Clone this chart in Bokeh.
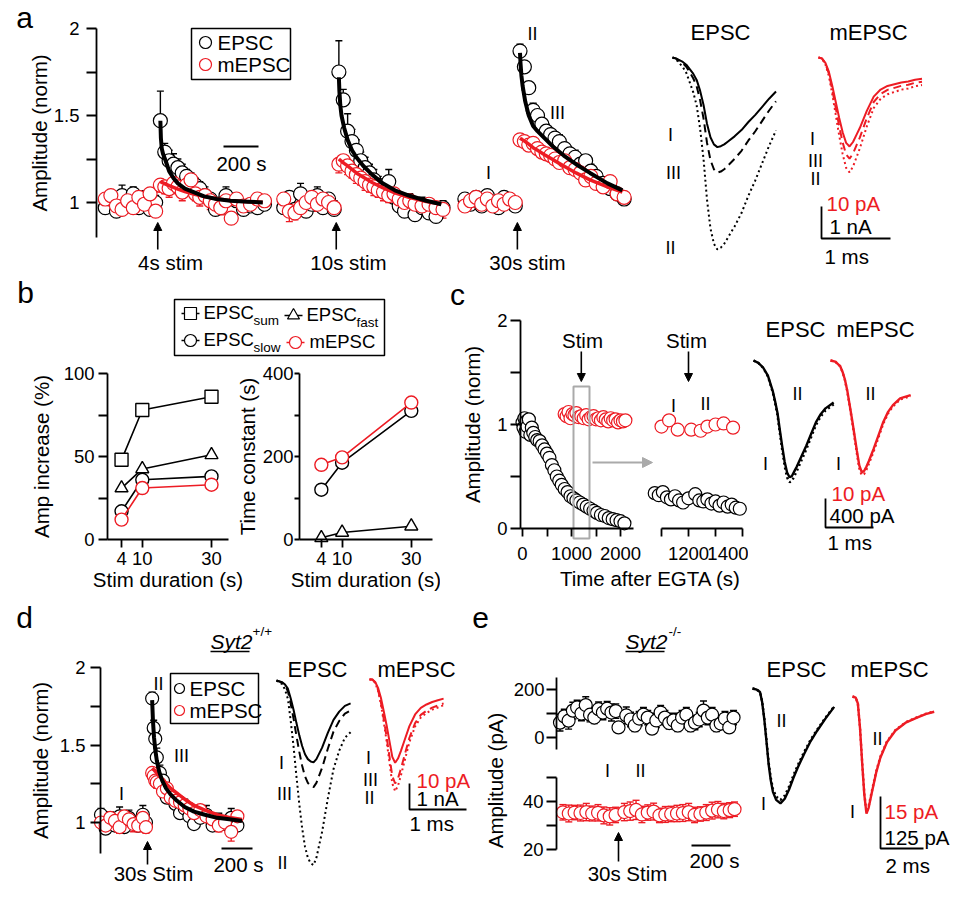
import math
from bokeh.plotting import figure
from bokeh.layouts import row, column
from bokeh.models import Range1d, FixedTicker, Label, Arrow, NormalHead, LinearAxis
from bokeh.embed import file_html
from bokeh.resources import INLINE

# ======================= DATA =======================
# ---- panel a: normalised amplitude time courses (time relative to stimulus, s)
A_STIM_LABELS = ["4s stim", "10s stim", "30s stim"]
A_PRE_T = [-300, -268, -236, -204, -172, -140, -108, -76, -44, -12]
A_POST_T = [15, 40, 65, 90, 115, 140, 165, 190, 215, 240, 270, 300, 330, 360, 390, 420, 450, 490, 530, 570, 610]
A_EPSC_PRE = [[0.97, 1.02, 0.95, 1.04, 0.98, 1.05, 0.97, 1.03, 0.96, 1.00],
              [0.97, 1.03, 0.96, 1.05, 0.95, 0.99, 1.04, 0.97, 1.02, 0.96],
              [1.02, 0.99, 1.03, 0.98, 1.04, 1.00, 0.97, 1.03, 1.01, 0.98]]
A_EPSC_PRE_ERR = [[0.07, 0.03, 0.04, 0.06, 0.03, 0.04, 0.05, 0.03, 0.04, 0.04],
                  [0.08, 0.03, 0.04, 0.06, 0.03, 0.04, 0.05, 0.04, 0.03, 0.05],
                  [0.03, 0.02, 0.03, 0.02, 0.03, 0.02, 0.03, 0.02, 0.03, 0.02]]
A_MEPSC_PRE = [[1.02, 1.04, 0.98, 0.96, 1.01, 0.97, 1.03, 0.99, 1.05, 0.95],
               [1.02, 0.95, 0.94, 0.97, 1.00, 1.03, 0.99, 1.02, 1.00, 0.97],
               [0.98, 1.01, 1.03, 0.99, 1.02, 0.98, 1.01, 0.99, 1.02, 1.00]]
A_MEPSC_PRE_ERR = [[0.04, 0.03, 0.04, 0.03, 0.05, 0.03, 0.04, 0.03, 0.04, 0.03],
                   [0.05, 0.06, 0.04, 0.03, 0.05, 0.03, 0.04, 0.03, 0.04, 0.03],
                   [0.02, 0.03, 0.02, 0.03, 0.02, 0.03, 0.02, 0.03, 0.02, 0.03]]
A_EPSC_POST = [[1.47, 1.29, 1.24, 1.22, 1.20, 1.17, 1.15, 1.12, 1.10, 1.08, 1.04, 1.02, 0.96, 0.99, 1.04, 0.95, 1.01, 0.96, 0.98, 0.97, 0.99],
               [1.75, 1.59, 1.41, 1.35, 1.30, 1.24, 1.20, 1.17, 1.13, 1.10, 1.07, 1.12, 1.03, 0.98, 0.95, 1.01, 0.93, 0.97, 0.94, 0.92, 0.97],
               [1.87, 1.78, 1.66, 1.53, 1.50, 1.45, 1.41, 1.39, 1.37, 1.35, 1.31, 1.28, 1.26, 1.22, 1.24, 1.18, 1.15, 1.11, 1.08, 1.05, 1.02]]
A_EPSC_POST_ERR = [[0.17, 0.05, 0.06, 0.06, 0.05, 0.05, 0.04, 0.05, 0.04, 0.04, 0.05, 0.03, 0.04, 0.04, 0.05, 0.03, 0.04, 0.03, 0.04, 0.03, 0.04],
                   [0.18, 0.06, 0.10, 0.07, 0.06, 0.05, 0.06, 0.05, 0.06, 0.05, 0.04, 0.07, 0.05, 0.04, 0.06, 0.04, 0.05, 0.06, 0.04, 0.05, 0.04],
                   [0.04, 0.03, 0.03, 0.04, 0.03, 0.03, 0.04, 0.03, 0.03, 0.04, 0.03, 0.03, 0.04, 0.03, 0.03, 0.04, 0.03, 0.03, 0.04, 0.03, 0.03]]
A_MEPSC_POST = [[1.10, 1.09, 1.08, 1.11, 1.09, 1.06, 1.10, 1.13, 1.05, 1.03, 1.04, 1.01, 0.99, 0.97, 1.01, 0.91, 1.02, 0.98, 0.99, 1.02, 1.01],
                [1.22, 1.24, 1.21, 1.18, 1.16, 1.14, 1.12, 1.10, 1.09, 1.07, 1.06, 1.04, 1.05, 1.02, 1.00, 1.01, 0.99, 0.98, 0.99, 0.97, 0.96],
                [1.36, 1.35, 1.33, 1.34, 1.31, 1.29, 1.28, 1.27, 1.25, 1.23, 1.24, 1.20, 1.19, 1.17, 1.13, 1.15, 1.11, 1.09, 1.12, 1.05, 1.03]]
A_MEPSC_POST_ERR = [[0.04, 0.04, 0.05, 0.04, 0.04, 0.05, 0.04, 0.05, 0.04, 0.05, 0.04, 0.05, 0.04, 0.04, 0.05, 0.03, 0.04, 0.05, 0.04, 0.04, 0.04],
                    [0.05, 0.04, 0.05, 0.04, 0.05, 0.04, 0.05, 0.04, 0.05, 0.04, 0.05, 0.04, 0.05, 0.04, 0.05, 0.04, 0.05, 0.04, 0.05, 0.04, 0.05],
                    [0.03, 0.03, 0.03, 0.03, 0.03, 0.03, 0.03, 0.03, 0.03, 0.03, 0.03, 0.03, 0.03, 0.03, 0.03, 0.03, 0.03, 0.03, 0.03, 0.03, 0.03]]
A_FIT_T = [15, 18, 23, 30, 45, 65, 90, 115, 155, 205, 265, 335, 415, 515, 600]
A_EPSC_FIT = [[1.47, 1.37, 1.31, 1.28, 1.24, 1.18, 1.14, 1.11, 1.08, 1.06, 1.035, 1.02, 1.01, 1.005, 1.0],
              [1.72, 1.64, 1.56, 1.50, 1.43, 1.36, 1.30, 1.26, 1.21, 1.16, 1.11, 1.07, 1.04, 1.01, 0.99],
              [1.86, 1.80, 1.73, 1.67, 1.58, 1.50, 1.44, 1.41, 1.37, 1.32, 1.27, 1.22, 1.17, 1.11, 1.07]]
A_MEPSC_FIT = [[1.12, 1.118, 1.116, 1.113, 1.106, 1.097, 1.087, 1.077, 1.063, 1.048, 1.034, 1.022, 1.012, 1.005, 1.002],
               [1.25, 1.247, 1.243, 1.237, 1.225, 1.21, 1.19, 1.17, 1.145, 1.115, 1.085, 1.055, 1.03, 1.005, 0.99],
               [1.37, 1.368, 1.365, 1.36, 1.35, 1.335, 1.315, 1.30, 1.275, 1.245, 1.21, 1.17, 1.13, 1.09, 1.06]]
# ---- panel a: example traces (normalised waveform x peak amplitude), order I, III, II
TRACE_NAMES_3 = ["I", "III", "II"]
A_TR_EPSC_T = [0, 0.05, 0.1, 0.15, 0.2, 0.25, 0.3, 0.35, 0.4, 0.45, 0.5, 0.55, 0.6, 0.65, 0.7, 0.75, 0.8, 0.9, 1.0, 1.1, 1.2, 1.3, 1.4, 1.5]
A_TR_EPSC_F = [0, 0.01, 0.03, 0.05, 0.08, 0.13, 0.18, 0.25, 0.37, 0.53, 0.74, 0.89, 0.97, 1.0, 0.99, 0.97, 0.94, 0.88, 0.81, 0.72, 0.64, 0.55, 0.46, 0.38]
A_TR_EPSC_AMP = [2.8, 3.6, 6.0]          # nA
A_TR_MEPSC_T = [0, 0.05, 0.1, 0.15, 0.2, 0.25, 0.3, 0.35, 0.4, 0.45, 0.5, 0.55, 0.6, 0.7, 0.8, 0.9, 1.0, 1.1, 1.2, 1.3, 1.4, 1.5]
A_TR_MEPSC_F = [0, 0.01, 0.06, 0.16, 0.32, 0.50, 0.68, 0.84, 0.96, 1.0, 0.95, 0.87, 0.79, 0.60, 0.44, 0.36, 0.32, 0.30, 0.28, 0.27, 0.25, 0.24]
A_TR_MEPSC_AMP = [27.8, 31.6, 35.9]      # pA

# ---- panel b
B_DUR = [4, 10, 30]
B_AMP_SUM = [48, 78, 86]
B_AMP_FAST = [31, 42.5, 51]
B_AMP_SLOW = [17, 36, 38]
B_AMP_MEPSC = [12, 31, 33]
B_TAU_FAST = [4, 17, 32]
B_TAU_SLOW = [120, 185, 310]
B_TAU_MEPSC = [180, 198, 330]

# ---- panel c
C_T_EPSC = [0, 20, 40, 60, 80, 100, 130, 160, 190, 220, 260, 300, 350, 400, 450, 500, 550, 600, 650, 700,
            750, 800, 860, 920, 980, 1040, 1100, 1170, 1240, 1310, 1380, 1450, 1520, 1600, 1680, 1760, 1840, 1920, 2000, 2080]
C_EPSC = [1.02, 0.97, 1.06, 0.93, 1.03, 0.98, 1.05, 0.90, 0.97, 0.92, 0.88, 0.85, 0.84, 0.80, 0.76, 0.72, 0.68, 0.61, 0.56, 0.50,
          0.46, 0.42, 0.38, 0.35, 0.31, 0.29, 0.27, 0.25, 0.23, 0.21, 0.19, 0.17, 0.15, 0.13, 0.12, 0.10, 0.09, 0.08, 0.07, 0.05]
C_T_MEPSC = [860, 900, 940, 980, 1020, 1060, 1100, 1150, 1200, 1250, 1300, 1350, 1400, 1450, 1500, 1550, 1600, 1650, 1700, 1750,
             1800, 1850, 1900, 1950, 2000, 2050, 2100]
C_MEPSC = [1.10, 1.08, 1.12, 1.06, 1.10, 1.09, 1.11, 1.07, 1.08, 1.06, 1.09, 1.05, 1.07, 1.08, 1.05, 1.06, 1.04, 1.07, 1.05, 1.03,
           1.06, 1.04, 1.05, 1.02, 1.04, 1.03, 1.04]
C_STIM_T = 1200
C_IN_T_EPSC = [1075, 1090, 1105, 1120, 1135, 1150, 1165, 1180, 1200, 1225, 1240, 1255, 1270, 1285, 1300, 1315, 1330, 1345, 1360, 1375, 1390]
C_IN_EPSC = [0.34, 0.32, 0.35, 0.30, 0.28, 0.31, 0.27, 0.25, 0.29, 0.33, 0.27, 0.26, 0.28, 0.24, 0.26, 0.22, 0.25, 0.21, 0.23, 0.20, 0.19]
C_IN_T_MEPSC = [1100, 1128, 1160, 1210, 1245, 1270, 1300, 1330, 1365]
C_IN_MEPSC = [0.98, 1.04, 0.95, 0.95, 0.94, 0.98, 1.00, 1.01, 0.97]
C_IN_MEPSC_ERR = [0.02, 0.02, 0.05, 0.05, 0.02, 0.02, 0.02, 0.02, 0.02]
C_IN_TICKS = [1100, 1200, 1300, 1400]
C_TR_EPSC_T = [0, 0.1, 0.2, 0.3, 0.4, 0.45, 0.5, 0.55, 0.6, 0.65, 0.7, 0.75, 0.8, 0.85, 0.9, 1.0, 1.1, 1.2, 1.3, 1.4, 1.5, 1.67]
C_TR_EPSC_F = [0, 0.02, 0.06, 0.13, 0.26, 0.35, 0.45, 0.60, 0.74, 0.87, 0.96, 1.0, 0.99, 0.95, 0.91, 0.82, 0.73, 0.63, 0.53, 0.46, 0.41, 0.36]
C_TR_EPSC_AMP = [1610, 1680]      # pA, I and II
C_TR_MEPSC_T = [0, 0.1, 0.2, 0.25, 0.3, 0.35, 0.4, 0.45, 0.5, 0.55, 0.6, 0.65, 0.7, 0.75, 0.8, 0.9, 1.0, 1.1, 1.2, 1.3, 1.45, 1.67]
C_TR_MEPSC_F = [0, 0.01, 0.05, 0.10, 0.17, 0.27, 0.40, 0.53, 0.67, 0.81, 0.94, 1.0, 0.99, 0.95, 0.90, 0.79, 0.67, 0.55, 0.46, 0.40, 0.34, 0.31]
C_TR_MEPSC_AMP = [38.5, 39.5]

# ---- panel d (Syt2 +/+)
D_PRE_T = [-300, -270, -240, -210, -180, -150, -120, -90, -60, -30, -10]
D_EPSC_PRE = [1.05, 0.96, 1.02, 0.98, 1.04, 0.97, 1.03, 1.00, 0.98, 1.05, 1.00]
D_EPSC_PRE_ERR = [0.04, 0.03, 0.05, 0.04, 0.06, 0.03, 0.05, 0.04, 0.03, 0.06, 0.04]
D_MEPSC_PRE = [1.00, 0.98, 1.03, 1.01, 0.97, 1.04, 1.02, 0.99, 0.98, 1.03, 0.97]
D_MEPSC_PRE_ERR = [0.03, 0.04, 0.03, 0.05, 0.04, 0.03, 0.04, 0.05, 0.04, 0.03, 0.04]
D_POST_T = [30, 40, 50, 60, 80, 100, 125, 150, 180, 210, 240, 270, 300, 340, 380, 420, 460, 500, 540, 580]
D_EPSC_POST = [1.80, 1.61, 1.54, 1.42, 1.32, 1.27, 1.16, 1.17, 1.12, 1.06, 1.09, 1.04, 0.99, 1.03, 1.05, 0.98, 1.00, 0.99, 1.03, 0.98]
D_EPSC_POST_ERR = [0.04, 0.05, 0.08, 0.06, 0.05, 0.05, 0.06, 0.04, 0.05, 0.05, 0.06, 0.05, 0.04, 0.05, 0.06, 0.05, 0.06, 0.05, 0.06, 0.05]
D_MEPSC_POST = [1.32, 1.30, 1.27, 1.26, 1.25, 1.20, 1.22, 1.16, 1.14, 1.13, 1.11, 1.09, 1.06, 1.08, 1.04, 1.02, 0.98, 1.00, 0.94, 1.04]
D_MEPSC_POST_ERR = [0.03, 0.04, 0.03, 0.04, 0.03, 0.04, 0.03, 0.04, 0.04, 0.03, 0.04, 0.04, 0.03, 0.04, 0.04, 0.03, 0.04, 0.03, 0.06, 0.04]
D_FIT_T = [30, 35, 42, 50, 60, 75, 95, 120, 150, 190, 240, 300, 370, 450, 540, 610]
D_EPSC_FIT = [1.79, 1.66, 1.55, 1.47, 1.40, 1.33, 1.27, 1.22, 1.18, 1.14, 1.10, 1.07, 1.05, 1.03, 1.02, 1.01]
D_MEPSC_FIT = [1.35, 1.345, 1.34, 1.33, 1.32, 1.30, 1.28, 1.25, 1.22, 1.19, 1.15, 1.11, 1.08, 1.05, 1.03, 1.02]
D_TR_EPSC_T = [0, 0.1, 0.15, 0.2, 0.25, 0.3, 0.35, 0.4, 0.45, 0.5, 0.55, 0.6, 0.65, 0.7, 0.8, 0.9, 1.0, 1.1, 1.2, 1.3]
D_TR_EPSC_F = [0, 0.02, 0.05, 0.10, 0.22, 0.36, 0.52, 0.67, 0.80, 0.90, 0.96, 0.99, 1.0, 0.96, 0.82, 0.64, 0.48, 0.38, 0.31, 0.28]
D_TR_EPSC_AMP = [3.15, 4.1, 7.1]     # nA, I, III, II
D_TR_MEPSC_T = [0, 0.05, 0.1, 0.15, 0.2, 0.25, 0.3, 0.35, 0.4, 0.45, 0.5, 0.55, 0.6, 0.7, 0.8, 0.9, 1.0, 1.1, 1.2, 1.3]
D_TR_MEPSC_F = [0, 0.0, 0.03, 0.10, 0.22, 0.38, 0.55, 0.74, 0.93, 1.0, 0.95, 0.86, 0.76, 0.56, 0.42, 0.34, 0.30, 0.27, 0.25, 0.23]
D_TR_MEPSC_AMP = [32, 40, 43]        # pA

# ---- panel e (Syt2 -/-)
E_T_TOP = [-300, -278, -256, -234, -212, -190, -168, -146, -124, -102, -80, -58, -36, -14, 0, 40, 62, 84, 106, 128,
           150, 172, 194, 216, 238, 260, 282, 304, 326, 348, 370, 392, 414, 436, 458, 480, 502, 524, 546, 568, 590]
E_TOP = [62, 88, 70, 112, 125, 100, 135, 95, 83, 118, 104, 120, 104, 110, 42, 92, 75, 50, 79, 95,
         83, 37, 71, 104, 83, 60, 71, 50, 83, 95, 50, 62, 75, 112, 83, 95, 50, 58, 79, 42, 83]
E_TOP_ERR = [35, 30, 35, 35, 30, 30, 35, 30, 25, 30, 30, 30, 35, 30, 15, 35, 30, 25, 30, 30,
             30, 20, 30, 30, 30, 25, 30, 25, 30, 30, 25, 30, 30, 40, 30, 30, 25, 25, 30, 20, 30]
E_T_BOT = [-285, -255, -225, -195, -165, -135, -105, -75, -45, -15, 30, 60, 90, 120, 150, 180, 210, 240, 270, 300,
           330, 360, 390, 420, 450, 480, 510, 540, 570, 595]
E_BOT = [35.5, 35.0, 35.4, 35.2, 35.6, 35.0, 35.3, 34.2, 33.8, 34.4, 35.6, 36.0, 36.5, 34.6, 35.4, 35.8, 34.2, 34.6, 34.8, 35.0,
         35.2, 35.6, 34.4, 34.8, 35.4, 36.2, 36.6, 36.0, 36.4, 36.8]
E_BOT_ERR = [3.2, 3.5, 3.0, 3.3, 3.6, 3.1, 3.4, 3.5, 3.6, 3.2, 3.6, 3.8, 4.0, 3.4, 3.2, 3.5, 3.0, 3.3, 3.2, 3.4,
             3.5, 3.6, 3.2, 3.0, 3.3, 3.5, 3.4, 3.2, 3.1, 3.0]
E_TR_EPSC_T = [0, 0.2, 0.35, 0.45, 0.55, 0.65, 0.75, 0.85, 0.95, 1.1, 1.3, 1.5, 1.7, 1.9, 2.1, 2.4, 2.7, 3.0, 3.4, 3.8]
E_TR_EPSC_F = [0, 0.01, 0.03, 0.12, 0.27, 0.46, 0.66, 0.80, 0.90, 0.97, 1.0, 0.96, 0.88, 0.78, 0.69, 0.57, 0.46, 0.37, 0.26, 0.16]
E_TR_EPSC_AMP = [276, 268]     # pA, I and II
E_TR_MEPSC_T = [0, 0.15, 0.25, 0.35, 0.45, 0.55, 0.65, 0.75, 0.9, 1.1, 1.3, 1.6, 2.0, 2.5, 3.0, 3.4, 3.8]
E_TR_MEPSC_F = [0, 0.01, 0.06, 0.27, 0.57, 0.84, 1.0, 0.95, 0.82, 0.65, 0.52, 0.39, 0.29, 0.22, 0.18, 0.15, 0.13]
E_TR_MEPSC_AMP = [33.8, 33.3]

# ======================= STYLE =======================
FONT = "Liberation Sans"
RED = "#ed1c24"
GRAY = "#aaaaaa"
TICK_FS = "18.5px"
LAB_FS = "20.5px"
TITLE_FS = "22px"
NUM_FS = "18px"
LETTER_FS = "30px"
DASH3 = ["solid", "8 5", "2 3"]     # I, III, II
DASH2 = ["solid", "2 3"]            # I, II


class Panel:
    """A figure whose frame fills a pixel box of the page; maps page pixels <-> data."""
    def __init__(self, box, xmap, ymap):
        self.box = box
        self.maps = {"default": (xmap, ymap)}
        L, T, R, B = box
        self.p = figure(width=R - L, height=B - T, title=None,
                        x_range=Range1d(self.X(L), self.X(R)),
                        y_range=Range1d(self.Y(B), self.Y(T)),
                        x_axis_type=None, y_axis_type=None,
                        output_backend="svg", toolbar_location=None, tools="",
                        min_border=0, frame_align=False)
        self.p.outline_line_color = None
        self.p.background_fill_color = "white"
        self.p.border_fill_color = "white"

    def add_map(self, name, xmap, ymap):
        self.maps[name] = (xmap, ymap)
        L, T, R, B = self.box
        xr = dict(self.p.extra_x_ranges)
        yr = dict(self.p.extra_y_ranges)
        xr[name] = Range1d(self.X(L, name), self.X(R, name))
        yr[name] = Range1d(self.Y(B, name), self.Y(T, name))
        self.p.extra_x_ranges = xr
        self.p.extra_y_ranges = yr

    def X(self, px, name="default"):
        a, v, s = self.maps[name][0]
        return v + (px - a) / s

    def Y(self, py, name="default"):
        a, v, s = self.maps[name][1]
        return v + (a - py) / s


def axis(P, side, ticks, labels, bounds, loc, rn="default", tick_out=9, standoff=6, label=None, lstand=5):
    ax = LinearAxis(ticker=FixedTicker(ticks=ticks), bounds=bounds, fixed_location=loc,
                    x_range_name=rn, y_range_name=rn)
    ax.major_label_overrides = {t: l for t, l in zip(ticks, labels)}
    ax.minor_tick_line_color = None
    ax.major_tick_in = 0
    ax.major_tick_out = tick_out
    ax.major_label_standoff = standoff
    ax.axis_line_width = 1.8
    ax.major_tick_line_width = 1.8
    ax.major_label_text_font = FONT
    ax.major_label_text_font_size = TICK_FS
    ax.major_label_text_color = "black"
    if label:
        ax.axis_label = label
        ax.axis_label_text_font = FONT
        ax.axis_label_text_font_size = LAB_FS
        ax.axis_label_text_font_style = "normal"
        ax.axis_label_text_color = "black"
        ax.axis_label_standoff = lstand
    P.p.add_layout(ax, side)
    return ax


def lab(P, px, py, text, size=LAB_FS, color="black", align="center", angle=0.0, style="normal"):
    P.p.add_layout(Label(x=P.X(px), y=P.Y(py), text=text, text_font=FONT, text_font_size=size,
                         text_color=color, text_align=align, text_baseline="middle", angle=angle,
                         text_font_style=style))


def arrow(P, x0, y0, x1, y1, color="black", lw=1.6, size=8, rn="default"):
    P.p.add_layout(Arrow(end=NormalHead(size=size, fill_color=color, line_color=color),
                         x_start=x0, y_start=y0, x_end=x1, y_end=y1,
                         line_color=color, line_width=lw, x_range_name=rn, y_range_name=rn))


def errs(P, xs, ys, es, color, sign, cap=7, lw=1.4, rn="default"):
    ends = [y + sign * e for y, e in zip(ys, es)]
    P.p.segment(x0=xs, y0=ys, x1=xs, y1=ends, line_color=color, line_width=lw,
                x_range_name=rn, y_range_name=rn)
    P.p.scatter(x=xs, y=ends, marker="dash", size=cap, line_color=color, line_width=lw,
                x_range_name=rn, y_range_name=rn)


def dots(P, xs, ys, color, size, marker="circle", lw=1.2, rn="default"):
    P.p.scatter(x=list(xs), y=list(ys), marker=marker, size=size, line_color=color,
                fill_color="white", line_width=lw, x_range_name=rn, y_range_name=rn)


def pline(P, pxs, pys, color="black", lw=1.8):
    P.p.line([P.X(v) for v in pxs], [P.Y(v) for v in pys], line_color=color, line_width=lw)


def trace(P, ts, fs, amp, k, x0px, y0py, color, dash, lw=2.0):
    xs = [P.X(x0px) + t for t in ts]
    ys = [P.Y(y0py) - amp * k * f for f in fs]
    P.p.line(xs, ys, line_color=color, line_width=lw, line_dash=dash)


def scalebar(P, xpx, ypy, vlen, hlen, lw=1.8):
    x0, y0 = P.X(xpx), P.Y(ypy)
    P.p.line([x0, x0, x0 + hlen], [y0 + vlen, y0, y0], line_color="black", line_width=lw)


def box(P, l, t, r, b, lw=1.5, color="black"):
    P.p.quad(left=[P.X(l)], right=[P.X(r)], top=[P.Y(t)], bottom=[P.Y(b)],
             fill_color=None, line_color=color, line_width=lw)


# ======================= PANEL a =======================
A_SEG_T = [350, 1370, 2405]           # where each stimulus sits on the time axis
fa = Panel((0, 0, 640, 275), (96, 0.0, 0.175), (202, 1.0, 174.0))
axis(fa, "left", [1, 1.25, 1.5, 1.75, 2], ["1", " ", "1.5", " ", "2"], (0.8, 2.0), fa.X(96),
     tick_out=10, standoff=7, label="Amplitude (norm)", lstand=0)
for k in range(3):
    pre_x = [A_SEG_T[k] + t for t in A_PRE_T]
    post_x = [A_SEG_T[k] + t for t in A_POST_T]
    errs(fa, pre_x, A_EPSC_PRE[k], A_EPSC_PRE_ERR[k], "black", 1)
    errs(fa, post_x, A_EPSC_POST[k], A_EPSC_POST_ERR[k], "black", 1)
    errs(fa, pre_x, A_MEPSC_PRE[k], A_MEPSC_PRE_ERR[k], RED, -1)
    errs(fa, post_x, A_MEPSC_POST[k], A_MEPSC_POST_ERR[k], RED, -1)
for k in range(3):
    dots(fa, [A_SEG_T[k] + t for t in A_PRE_T + A_POST_T], A_EPSC_PRE[k] + A_EPSC_POST[k], "black", 14)
for k in range(3):
    dots(fa, [A_SEG_T[k] + t for t in A_PRE_T + A_POST_T], A_MEPSC_PRE[k] + A_MEPSC_POST[k], RED, 14)
for k in range(3):
    fx = [A_SEG_T[k] + t for t in A_FIT_T]
    fa.p.line(fx, A_MEPSC_FIT[k], line_color=RED, line_width=3.5)
    fa.p.line(fx, A_EPSC_FIT[k], line_color="black", line_width=4)
for k, (s, cx) in enumerate(zip(A_SEG_T, [170, 348, 527])):
    arrow(fa, s, fa.Y(249), s, fa.Y(222))
    lab(fa, cx, 262, A_STIM_LABELS[k])
lab(fa, 24, 17, "a", size=LETTER_FS)
box(fa, 191, 28, 290, 79)
dots(fa, [fa.X(205)], [fa.Y(42)], "black", 12)
dots(fa, [fa.X(205)], [fa.Y(64)], RED, 12)
lab(fa, 217, 42, "EPSC", align="left")
lab(fa, 217, 64, "mEPSC", align="left")
fa.p.line([fa.X(223), fa.X(223) + 200], [fa.Y(146), fa.Y(146)], line_color="black", line_width=1.8)
lab(fa, 241, 163, "200 s")
lab(fa, 532, 33, "II", size=NUM_FS)
lab(fa, 557, 112, "III", size=NUM_FS)
lab(fa, 488, 172, "I", size=NUM_FS)

fatr = Panel((640, 0, 955, 275), (672, 0.0, 69.0), (57, 0.0, 32.0))
for i in [2, 1, 0]:
    trace(fatr, A_TR_EPSC_T, A_TR_EPSC_F, A_TR_EPSC_AMP[i], 1.0, 672, 57, "black", DASH3[i])
    trace(fatr, A_TR_MEPSC_T, A_TR_MEPSC_F, A_TR_MEPSC_AMP[i], 0.1, 818, 57, RED, DASH3[i])
lab(fatr, 720, 32, "EPSC", size=TITLE_FS)
lab(fatr, 868, 32, "mEPSC", size=TITLE_FS)
for (px, py), (qx, qy), name in zip([(670, 134), (673, 172), (670, 247)], [(812, 138), (815, 160), (815, 178)], TRACE_NAMES_3):
    lab(fatr, px, py, name, size=NUM_FS)
    lab(fatr, qx, qy, name, size=NUM_FS)
scalebar(fatr, 821, 238, 1.0, 1.0)
lab(fatr, 826, 203, "10 pA", color=RED, align="left")
lab(fatr, 829, 226, "1 nA", align="left")
lab(fatr, 824, 256, "1 ms", align="left")

# ======================= PANEL b =======================
fb = Panel((0, 275, 440, 597), (107.2, 0.0, 3.46), (539, 0.0, 1.66))
fb.add_map("r", (307, 0.0, 3.46), (539, 0.0, 0.415))
lab(fb, 25, 292, "b", size=LETTER_FS)
box(fb, 174, 299, 384, 355)
LEG_B = [("square", "black", 190, 313, "EPSC", "sum", 203),
         ("triangle", "black", 293, 315, "EPSC", "fast", 306),
         ("circle", "black", 190, 340, "EPSC", "slow", 203),
         ("circle", RED, 295, 342, "mEPSC", None, 309)]
for mk, col, mx, my, t1, t2, tx in LEG_B:
    pline(fb, [mx - 9, mx + 9], [my, my], color=col, lw=1.5)
    dots(fb, [fb.X(mx)], [fb.Y(my)], col, 12, marker=mk)
    lab(fb, tx, my - 1, t1, size="18.5px", align="left")
    if t2:
        lab(fb, tx + 50, my + 7, t2, size="13.5px", align="left")

axis(fb, "left", [0, 25, 50, 75, 100], ["0", " ", "50", " ", "100"], (0, 100), fb.X(107),
     tick_out=9, standoff=4, label="Amp increase (%)", lstand=8)
axis(fb, "below", B_DUR, ["4", "10", "30"], (fb.X(107), 35), 0, tick_out=8, standoff=4,
     label="Stim duration (s)", lstand=0)
for ys, col, mk in [(B_AMP_SUM, "black", "square"), (B_AMP_FAST, "black", "triangle"),
                    (B_AMP_SLOW, "black", "circle"), (B_AMP_MEPSC, RED, "circle")]:
    fb.p.line(B_DUR, ys, line_color=col, line_width=1.6)
    dots(fb, B_DUR, ys, col, 13, marker=mk, lw=1.4)

axis(fb, "left", [0, 100, 200, 300, 400], ["0", " ", "200", " ", "400"], (0, 400), fb.X(299, "r"), rn="r",
     tick_out=5, standoff=1, label="Time constant (s)", lstand=1)
axis(fb, "below", B_DUR, ["4", "10", "30"], (fb.X(299, "r"), fb.X(432, "r")), 0, rn="r",
     tick_out=8, standoff=4, label="Stim duration (s)", lstand=0)
for ys, col, mk in [(B_TAU_FAST, "black", "triangle"), (B_TAU_SLOW, "black", "circle"), (B_TAU_MEPSC, RED, "circle")]:
    fb.p.line(B_DUR, ys, line_color=col, line_width=1.6, x_range_name="r", y_range_name="r")
    dots(fb, B_DUR, ys, col, 13, marker=mk, lw=1.4, rn="r")

# ======================= PANEL c =======================
fc = Panel((440, 275, 748, 597), (522, 0.0, 0.049), (528, 0.0, 104.0))
fc.add_map("inset", (661, 1100.0, 0.27), (528, 0.0, 104.0))
axis(fc, "left", [0, 0.5, 1, 1.5, 2], ["0", " ", "1", " ", "2"], (0, 2), fc.X(520),
     tick_out=10, standoff=3, label="Amplitude (norm)", lstand=10)
axis(fc, "below", [0, 500, 1000, 1500, 2000], ["0", " ", "1000", " ", "2000"], (fc.X(520), fc.X(633)), 0,
     tick_out=8, standoff=6)
axis(fc, "below", C_IN_TICKS, [" ", "1200", " ", "1400"], (C_IN_TICKS[0], C_IN_TICKS[-1]), 0, rn="inset",
     tick_out=8, standoff=6)
dots(fc, C_T_EPSC, C_EPSC, "black", 13)
dots(fc, C_T_MEPSC, C_MEPSC, RED, 13)
errs(fc, C_IN_T_MEPSC, C_IN_MEPSC, C_IN_MEPSC_ERR, RED, -1, rn="inset")
dots(fc, C_IN_T_EPSC, C_IN_EPSC, "black", 13, rn="inset")
dots(fc, C_IN_T_MEPSC, C_IN_MEPSC, RED, 13, rn="inset")
box(fc, 573, 386, 589, 538, lw=2, color=GRAY)
arrow(fc, fc.X(592), fc.Y(462), fc.X(652), fc.Y(462), color=GRAY, lw=2, size=10)
arrow(fc, C_STIM_T, fc.Y(351), C_STIM_T, fc.Y(381))
arrow(fc, C_STIM_T, fc.Y(351), C_STIM_T, fc.Y(381), rn="inset")
lab(fc, 582, 340, "Stim")
lab(fc, 686, 340, "Stim")
lab(fc, 673, 405, "I", size=NUM_FS)
lab(fc, 705, 403, "II", size=NUM_FS)
lab(fc, 457, 294, "c", size=LETTER_FS)
lab(fc, 650, 578, "Time after EGTA (s)")

fctr = Panel((748, 275, 955, 597), (753, 0.0, 48.0), (360, 0.0, 29.0 / 400))
for i in [1, 0]:
    trace(fctr, C_TR_EPSC_T, C_TR_EPSC_F, C_TR_EPSC_AMP[i], 1.0, 753, 360, "black", DASH2[i], lw=2.4)
    trace(fctr, C_TR_MEPSC_T, C_TR_MEPSC_F, C_TR_MEPSC_AMP[i], 40.0, 830, 360, RED, DASH2[i], lw=2.4)
lab(fctr, 795, 329, "EPSC", size=TITLE_FS)
lab(fctr, 875, 329, "mEPSC", size=TITLE_FS)
lab(fctr, 765, 463, "I", size=NUM_FS)
lab(fctr, 797, 393, "II", size=NUM_FS)
lab(fctr, 838, 463, "I", size=NUM_FS)
lab(fctr, 870, 393, "II", size=NUM_FS)
scalebar(fctr, 825, 527, 400.0, 1.0)
lab(fctr, 831, 493, "10 pA", color=RED, align="left")
lab(fctr, 829, 515, "400 pA", align="left")
lab(fctr, 827, 542, "1 ms", align="left")

# ======================= PANEL d =======================
fd = Panel((0, 597, 274, 899), (147, 0.0, 0.155), (822, 1.0, 155.0))
axis(fd, "left", [1, 1.25, 1.5, 1.75, 2], ["1", " ", "1.5", " ", "2"], (0.8, 2.0), fd.X(100),
     tick_out=10, standoff=5, label="Amplitude (norm)", lstand=5)
errs(fd, D_PRE_T, D_EPSC_PRE, D_EPSC_PRE_ERR, "black", 1)
errs(fd, D_POST_T, D_EPSC_POST, D_EPSC_POST_ERR, "black", 1)
errs(fd, D_PRE_T, D_MEPSC_PRE, D_MEPSC_PRE_ERR, RED, -1)
errs(fd, D_POST_T, D_MEPSC_POST, D_MEPSC_POST_ERR, RED, -1)
dots(fd, D_PRE_T + D_POST_T, D_EPSC_PRE + D_EPSC_POST, "black", 13)
dots(fd, D_PRE_T + D_POST_T, D_MEPSC_PRE + D_MEPSC_POST, RED, 13)
fd.p.line(D_FIT_T, D_MEPSC_FIT, line_color=RED, line_width=3.5)
fd.p.line(D_FIT_T, D_EPSC_FIT, line_color="black", line_width=4)
arrow(fd, 0, fd.Y(864), 0, fd.Y(841))
lab(fd, 153, 873, "30s Stim")
fd.p.line([fd.X(221), fd.X(221) + 200], [fd.Y(848), fd.Y(848)], line_color="black", line_width=1.8)
lab(fd, 238, 864, "200 s")
lab(fd, 158, 683, "II", size=NUM_FS)
lab(fd, 181, 755, "III", size=NUM_FS)
lab(fd, 121, 793, "I", size=NUM_FS)
lab(fd, 24, 617, "d", size=LETTER_FS)
box(fd, 170, 673, 258, 723)
dots(fd, [fd.X(179)], [fd.Y(688)], "black", 10)
dots(fd, [fd.X(179)], [fd.Y(710)], RED, 10)
lab(fd, 189, 688, "EPSC", align="left")
lab(fd, 189, 710, "mEPSC", align="left")
lab(fd, 210, 641, "Syt2", size="21px", align="left", style="italic")
lab(fd, 252, 631, "+/+", size="13.5px", align="left")
pline(fd, [210, 249], [651, 651], lw=1.5)

fdtr = Panel((274, 597, 470, 899), (276, 0.0, 57.0), (680, 0.0, 26.0))
for i in [2, 1, 0]:
    trace(fdtr, D_TR_EPSC_T, D_TR_EPSC_F, D_TR_EPSC_AMP[i], 1.0, 276, 680, "black", DASH3[i])
    trace(fdtr, D_TR_MEPSC_T, D_TR_MEPSC_F, D_TR_MEPSC_AMP[i], 0.1, 369, 679, RED, DASH3[i])
lab(fdtr, 317, 669, "EPSC", size=TITLE_FS)
lab(fdtr, 416, 669, "mEPSC", size=TITLE_FS)
for (px, py), (qx, qy), name in zip([(281, 762), (284, 793), (282, 862)], [(368, 757), (370, 779), (369, 797)], TRACE_NAMES_3):
    lab(fdtr, px, py, name, size=NUM_FS)
    lab(fdtr, qx, qy, name, size=NUM_FS)
scalebar(fdtr, 409, 809, 1.0, 1.0)
lab(fdtr, 416, 780, "10 pA", color=RED, align="left")
lab(fdtr, 416, 798, "1 nA", align="left")
lab(fdtr, 409, 823, "1 ms", align="left")

# ======================= PANEL e =======================
fe = Panel((470, 597, 745, 899), (618, 0.0, 0.195), (737, 0.0, 0.24))
fe.add_map("bot", (618, 0.0, 0.195), (801, 40.0, 2.4))
lab(fe, 480, 617, "e", size=LETTER_FS)
lab(fe, 495, 780, "Amplitude (pA)", angle=math.pi / 2)
axis(fe, "left", [0, 100, 200], ["0", " ", "200"], (-50, 250), fe.X(556), tick_out=10, standoff=2)
axis(fe, "left", [20, 30, 40, 50], ["20", " ", "40", " "], (20, 50), fe.X(556, "bot"), rn="bot",
     tick_out=10, standoff=3)
errs(fe, E_T_TOP, E_TOP, E_TOP_ERR, "black", 1)
errs(fe, E_T_TOP, E_TOP, E_TOP_ERR, "black", -1)
dots(fe, E_T_TOP, E_TOP, "black", 13)
errs(fe, E_T_BOT, E_BOT, E_BOT_ERR, RED, 1, rn="bot")
errs(fe, E_T_BOT, E_BOT, E_BOT_ERR, RED, -1, rn="bot")
dots(fe, E_T_BOT, E_BOT, RED, 13, rn="bot")
lab(fe, 625, 641, "Syt2", size="21px", align="left", style="italic")
lab(fe, 668, 631, "-/-", size="13.5px", align="left")
pline(fe, [625, 664], [651, 651], lw=1.5)
lab(fe, 607, 770, "I", size=NUM_FS)
lab(fe, 640, 770, "II", size=NUM_FS)
arrow(fe, 0, fe.Y(861), 0, fe.Y(832))
lab(fe, 627, 873, "30s Stim")
fe.p.line([fe.X(691), fe.X(691) + 200], [fe.Y(845), fe.Y(845)], line_color="black", line_width=1.8)
lab(fe, 714, 860, "200 s")

fetr = Panel((745, 597, 955, 899), (752, 0.0, 21.5), (688, 0.0, 52.0 / 125))
for i in [1, 0]:
    trace(fetr, E_TR_EPSC_T, E_TR_EPSC_F, E_TR_EPSC_AMP[i], 1.0, 752, 688, "black", DASH2[i], lw=2.4)
    trace(fetr, E_TR_MEPSC_T, E_TR_MEPSC_F, E_TR_MEPSC_AMP[i], 125.0 / 15, 852, 696, RED, DASH2[i], lw=2.4)
lab(fetr, 796, 669, "EPSC", size=TITLE_FS)
lab(fetr, 889, 669, "mEPSC", size=TITLE_FS)
lab(fetr, 763, 803, "I", size=NUM_FS)
lab(fetr, 781, 720, "II", size=NUM_FS)
lab(fetr, 852, 811, "I", size=NUM_FS)
lab(fetr, 877, 738, "II", size=NUM_FS)
scalebar(fetr, 880, 848, 125.0, 2.0)
lab(fetr, 884, 811, "15 pA", color=RED, align="left")
lab(fetr, 884, 837, "125 pA", align="left")
lab(fetr, 885, 865, "2 ms", align="left")

# ======================= LAYOUT =======================
layout = column(
    row(fa.p, fatr.p),
    row(fb.p, fc.p, fctr.p),
    row(fd.p, fdtr.p, fe.p, fetr.p),
)
open("out.html", "w").write(file_html(layout, INLINE))
